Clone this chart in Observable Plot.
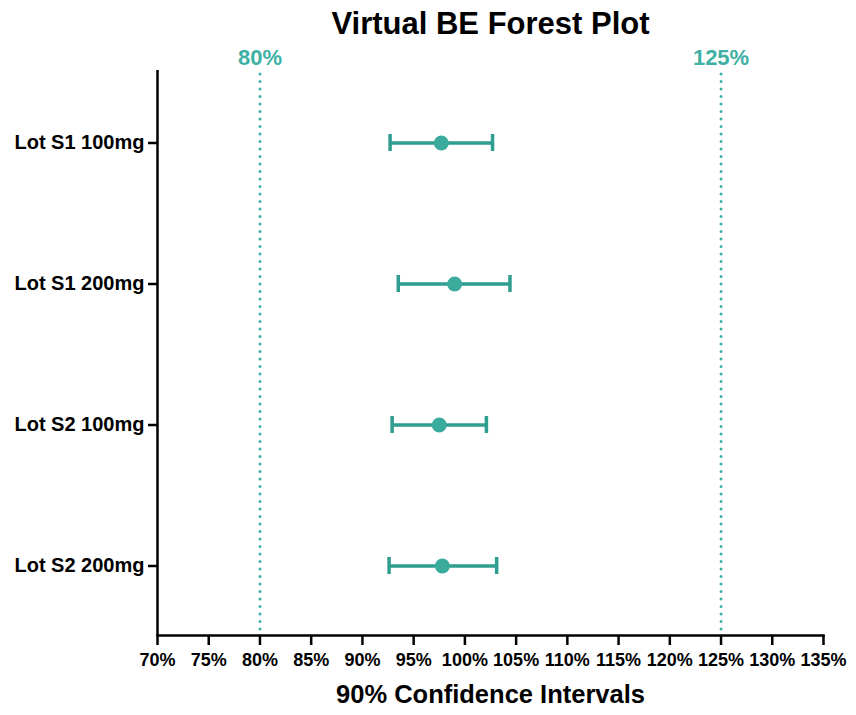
<!DOCTYPE html>
<html>
<head>
<meta charset="utf-8">
<script src="https://cdn.jsdelivr.net/npm/d3@7"></script>
<script src="https://cdn.jsdelivr.net/npm/@observablehq/plot@0.6"></script>
<style>
  html, body { margin: 0; padding: 0; background: #fff; }
</style>
</head>
<body>
<div id="chart"></div>
<script>
const categories = ["Lot S1 100mg", "Lot S1 200mg", "Lot S2 100mg", "Lot S2 200mg"];
const estimates = [97.7, 99.0, 97.5, 97.8];
const lower = [92.7, 93.5, 92.9, 92.6];
const upper = [102.7, 104.4, 102.1, 103.1];
const xTicks = [70, 75, 80, 85, 90, 95, 100, 105, 110, 115, 120, 125, 130, 135];
const limits = [80, 125];
const limitLabels = ["80%", "125%"];
const title = "Virtual BE Forest Plot";
const xTitle = "90% Confidence Intervals";

const rows = categories.map((c, i) => ({cat: c, est: estimates[i], lo: lower[i], hi: upper[i]}));
const caps = rows.flatMap(r => [{cat: r.cat, x: r.lo}, {cat: r.cat, x: r.hi}]);
const limitRows = limits.map((v, i) => ({x: v, label: limitLabels[i]}));

const lineColor = "#2f9d8f";
const dotColor = "#3aab9d";
const refColor = "#3fb1a4";

const chart = Plot.plot({
  width: 856,
  height: 715,
  marginLeft: 157,
  marginRight: 33,
  marginTop: 72,
  marginBottom: 80,
  style: {fontFamily: "'Liberation Sans', Arial, sans-serif", background: "#fff", color: "#000"},
  x: {domain: [70, 135]},
  y: {type: "band", domain: categories, paddingInner: 0.88, paddingOuter: 0.4225},
  marks: [
    Plot.ruleX(limitRows, {x: "x", stroke: refColor, strokeWidth: 3, strokeDasharray: "0,7.5", strokeLinecap: "round", insetTop: 2}),
    Plot.axisX({ticks: xTicks, tickFormat: d => d + "%", tickSize: 10, tickPadding: 8, fontSize: 18, fontWeight: "bold", fill: "#000", stroke: "#000", strokeWidth: 2.5, label: null}),
    Plot.axisY({tickSize: 9, tickPadding: 4, fontSize: 20, fontWeight: "bold", fill: "#000", stroke: "#000", strokeWidth: 2.5, label: null}),
    Plot.ruleX([70], {stroke: "#000", strokeWidth: 2.5, insetTop: -2}),
    Plot.frame({anchor: "bottom", stroke: "#000", strokeWidth: 2.5}),
    Plot.ruleY(rows, {y: "cat", x1: "lo", x2: "hi", stroke: lineColor, strokeWidth: 3.5}),
    Plot.tickX(caps, {x: "x", y: "cat", stroke: lineColor, strokeWidth: 3.5}),
    Plot.dot(rows, {x: "est", y: "cat", r: 7.5, fill: dotColor, stroke: "none"}),
    Plot.text([title], {frameAnchor: "top", dy: -39, lineAnchor: "bottom", fontSize: 31, fontWeight: "bold", fill: "#000"}),
    Plot.text(limitRows, {x: "x", text: "label", frameAnchor: "top", dy: -8, lineAnchor: "bottom", fontSize: 22, fontWeight: "bold", fill: refColor}),
    Plot.text([xTitle], {frameAnchor: "bottom", dy: 67, fontSize: 25.5, fontWeight: "bold", fill: "#000"})
  ]
});
document.getElementById("chart").appendChild(chart);
</script>
</body>
</html>
